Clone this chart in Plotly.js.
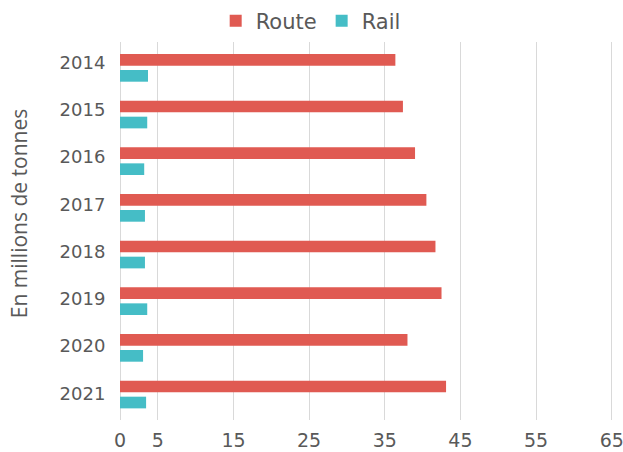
<!DOCTYPE html>
<html>
<head>
<meta charset="utf-8">
<script src="https://cdn.plot.ly/plotly-3.0.1.min.js"></script>
<style>html,body{margin:0;padding:0;background:#fff;}#chart{width:623px;height:452px;}</style>
</head>
<body>
<div id="chart"></div>
<script>
const years = ['2014','2015','2016','2017','2018','2019','2020','2021'];
const route = [36.4, 37.4, 39.0, 40.5, 41.7, 42.5, 38.0, 43.1];
const rail = [3.7, 3.6, 3.2, 3.3, 3.3, 3.6, 3.05, 3.45];
const xTicks = [0, 5, 15, 25, 35, 45, 55, 65];

const traces = [
  {type:'bar', orientation:'h', name:'Route', y:years, x:route, marker:{color:'#E05A52'}, hoverinfo:'x+name'},
  {type:'bar', orientation:'h', name:'Rail', y:years, x:rail, marker:{color:'#45BDC6'}, hoverinfo:'x+name'},
  // invisible carrier for the year labels axis
  {type:'scatter', mode:'markers', y:years, x:route, yaxis:'y2', marker:{opacity:0}, showlegend:false, hoverinfo:'skip'}
];

const layout = {
  width:623, height:452,
  margin:{l:120, r:9, t:42, b:32},
  paper_bgcolor:'#fff', plot_bgcolor:'#fff',
  font:{family:'DejaVu Sans', color:'#595959'},
  barmode:'group', bargap:0.314, bargroupgap:0.27,
  showlegend:true,
  legend:{orientation:'h', xref:'paper', x:0.386, xanchor:'center', yref:'container', y:0.9535, yanchor:'middle', font:{size:21, color:'#595959'}},
  xaxis:{range:[0,65.3], tickvals:xTicks, ticktext:xTicks.map(String), showgrid:true, gridcolor:'#D9D9D9', gridwidth:1,
         zeroline:true, zerolinecolor:'#D9D9D9', zerolinewidth:1, showline:false, ticklabeloverflow:'allow',
         ticks:'outside', ticklen:3, tickcolor:'rgba(0,0,0,0)', tickfont:{size:19, color:'#595959'}},
  yaxis:{type:'category', categoryarray:years, range:[7.546,-0.554], showgrid:false, zeroline:false, showline:false,
         showticklabels:false, ticks:''},
  yaxis2:{type:'category', categoryarray:years, overlaying:'y', side:'left', anchor:'x', range:[7.565,-0.434],
          showgrid:false, zeroline:false, showline:false,
          ticks:'outside', ticklen:10, tickcolor:'rgba(0,0,0,0)', tickfont:{size:18, color:'#595959'}},
  annotations:[{text:'En millions de tonnes', xref:'paper', yref:'paper', x:-0.2045, y:0.547, xanchor:'center', yanchor:'middle',
    textangle:-90, showarrow:false, font:{family:'Open Sans', size:21, color:'#595959'}}]
};

Plotly.newPlot('chart', traces, layout, {displayModeBar:false, staticPlot:true});
</script>
</body>
</html>
